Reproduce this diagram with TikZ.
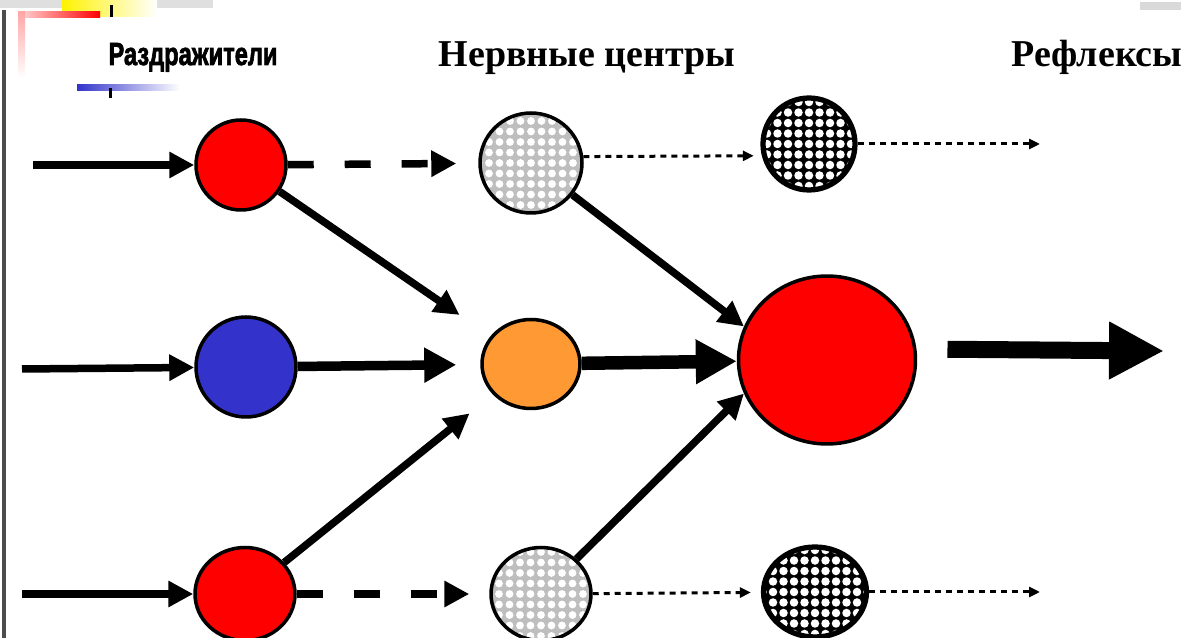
\documentclass[tikz,border=0pt]{standalone}
\usepackage{fontspec}
\setmainfont{Liberation Serif}
\newfontfamily\stimfont[BoldFeatures={FakeBold=2.5}]{Liberation Sans}
\usepackage{graphicx}
\usepackage{tikz}
\usetikzlibrary{
  arrows.meta,
  shapes.geometric,
  positioning
}
\usepackage{xcolor}
\definecolor{cellRed}{RGB}{255,0,0}
\definecolor{cellBlue}{RGB}{51,51,204}
\definecolor{cellOrange}{RGB}{255,153,51}
\definecolor{lightGrey}{RGB}{190,190,190}
\tikzset{
  cell/.style={
    ellipse,
    draw=black,
    line width=2pt,
    inner sep=0pt
  },
  grey cell/.style={
    cell,
    fill=lightGrey,
    path picture={
      \foreach \i in {-6,...,6}
        \foreach \j in {-6,...,6}
          \fill[white] ([shift={(\i*0.21cm,\j*0.21cm)}]path picture bounding box.center) circle (0.078cm);
    }
  },
  black cell/.style={
    cell,
    line width=3pt,
    fill=black,
    path picture={
      \foreach \i in {-6,...,6}
        \foreach \j in {-6,...,6}
          \fill[white] ([shift={(\i*0.21cm,\j*0.21cm)}]path picture bounding box.center) circle (0.085cm);
    }
  },
  axon/.style={line width=0.15cm, -{Triangle[length=0.5cm,width=0.5cm]}},
  weak axon/.style={axon, dash pattern=on 0.52cm off 0.62cm},
  faint axon/.style={line width=0.06cm, dash pattern=on 0.12cm off 0.1cm,
    -{Triangle[length=0.22cm,width=0.2cm]}},
  strong axon/.style={line width=0.19cm, -{Triangle[length=0.64cm,width=0.66cm]}},
  main axon/.style={line width=0.27cm, -{Triangle[length=0.82cm,width=0.84cm]}},
  reflex/.style={line width=0.34cm, -{Triangle[length=1.1cm,width=1.08cm]}},
  heading/.style={font=\fontsize{21.6}{24}\selectfont\bfseries, anchor=base, inner sep=0pt}
}

\begin{document}
\begin{tikzpicture}[x=0.02cm, y=-0.02cm, >=Stealth]
    \useasboundingbox (0,0) rectangle (1181,638);

    % slide decoration
    \fill[gray!25] (0,0) rectangle (213,8);
    \fill[gray!30] (1140,2) rectangle (1181,10);
    \shade[left color=yellow!90!orange, right color=white] (62,0) rectangle (157,17);
    \shade[left color=red!15, right color=red] (18,12) rectangle (100,18);
    \shade[top color=red!35, bottom color=white] (18,12) rectangle (25,78);
    \fill[black] (110,5) rectangle (113,17);
    \shade[left color=cellBlue, right color=white] (77,85) rectangle (180,91);
    \fill[black] (109,88) rectangle (112,98);
    \draw[gray!60!black, line width=2.5pt] (4,10) -- (4,638);

    % headings
    \node[heading, font=\fontsize{18.2}{20}\stimfont\bfseries] (stimuli) at (193,65)
      {\scalebox{0.74}[1]{Раздражители}};
    \node[heading] (centres) at (587,67) {Нервные центры};
    \node[heading] (reflexes) at (1097,67) {Рефлексы};

    % cells
    \node[cell, fill=cellRed, minimum width=1.8cm, minimum height=1.8cm] (r1) at (241,165) {};
    \node[cell, fill=cellBlue, minimum width=2.0cm, minimum height=2.0cm] (b2) at (246,367) {};
    \node[cell, fill=cellRed, minimum width=2.0cm, minimum height=1.86cm] (r3) at (245,594) {};
    \node[grey cell, minimum width=2.04cm, minimum height=2.0cm] (g1) at (531,163) {};
    \node[cell, fill=cellOrange, minimum width=1.96cm, minimum height=1.78cm] (o2) at (531,364) {};
    \node[grey cell, minimum width=2.0cm, minimum height=1.86cm] (g3) at (541,594) {};
    \node[black cell, minimum width=1.84cm, minimum height=1.84cm] (k1) at (809,144) {};
    \node[black cell, minimum width=2.06cm, minimum height=1.8cm] (k3) at (815,592) {};
    \node[cell, fill=cellRed, minimum width=3.54cm, minimum height=3.36cm] (R) at (827,360) {};

    \coordinate (in1) at (33,165);
    \coordinate (in2) at (22,369);
    \coordinate (in3) at (22,594);
    \coordinate (out1) at (1040,144);
    \coordinate (out3) at (1040,592);
    \coordinate (outR) at (1164,351);

    \path
    (in1) edge[axon] (r1)
    (in2) edge[axon] (b2)
    (in3) edge[axon] (r3)
    (r1) edge[weak axon, shorten >=0.44cm] (g1)
         edge[axon, shorten >=0.75cm] (o2)
    (b2) edge[strong axon, shorten >=0.48cm] (o2)
    (r3) edge[axon, shorten >=0.6cm] (o2)
         edge[weak axon, shorten >=0.4cm] (g3)
    (g1) edge[axon] (R.158)
    (g1.7) edge[faint axon, shorten >=0.16cm] (k1.194)
    (o2) edge[main axon] (R)
    (g3) edge[axon] (R.202)
         edge[faint axon, shorten >=0.2cm] (k3)
    (k1) edge[faint axon] (out1)
    (k3) edge[faint axon] (out3)
    (R.7) edge[reflex, shorten <=0.62cm] (outR)
        ;
\end{tikzpicture}
\end{document}
